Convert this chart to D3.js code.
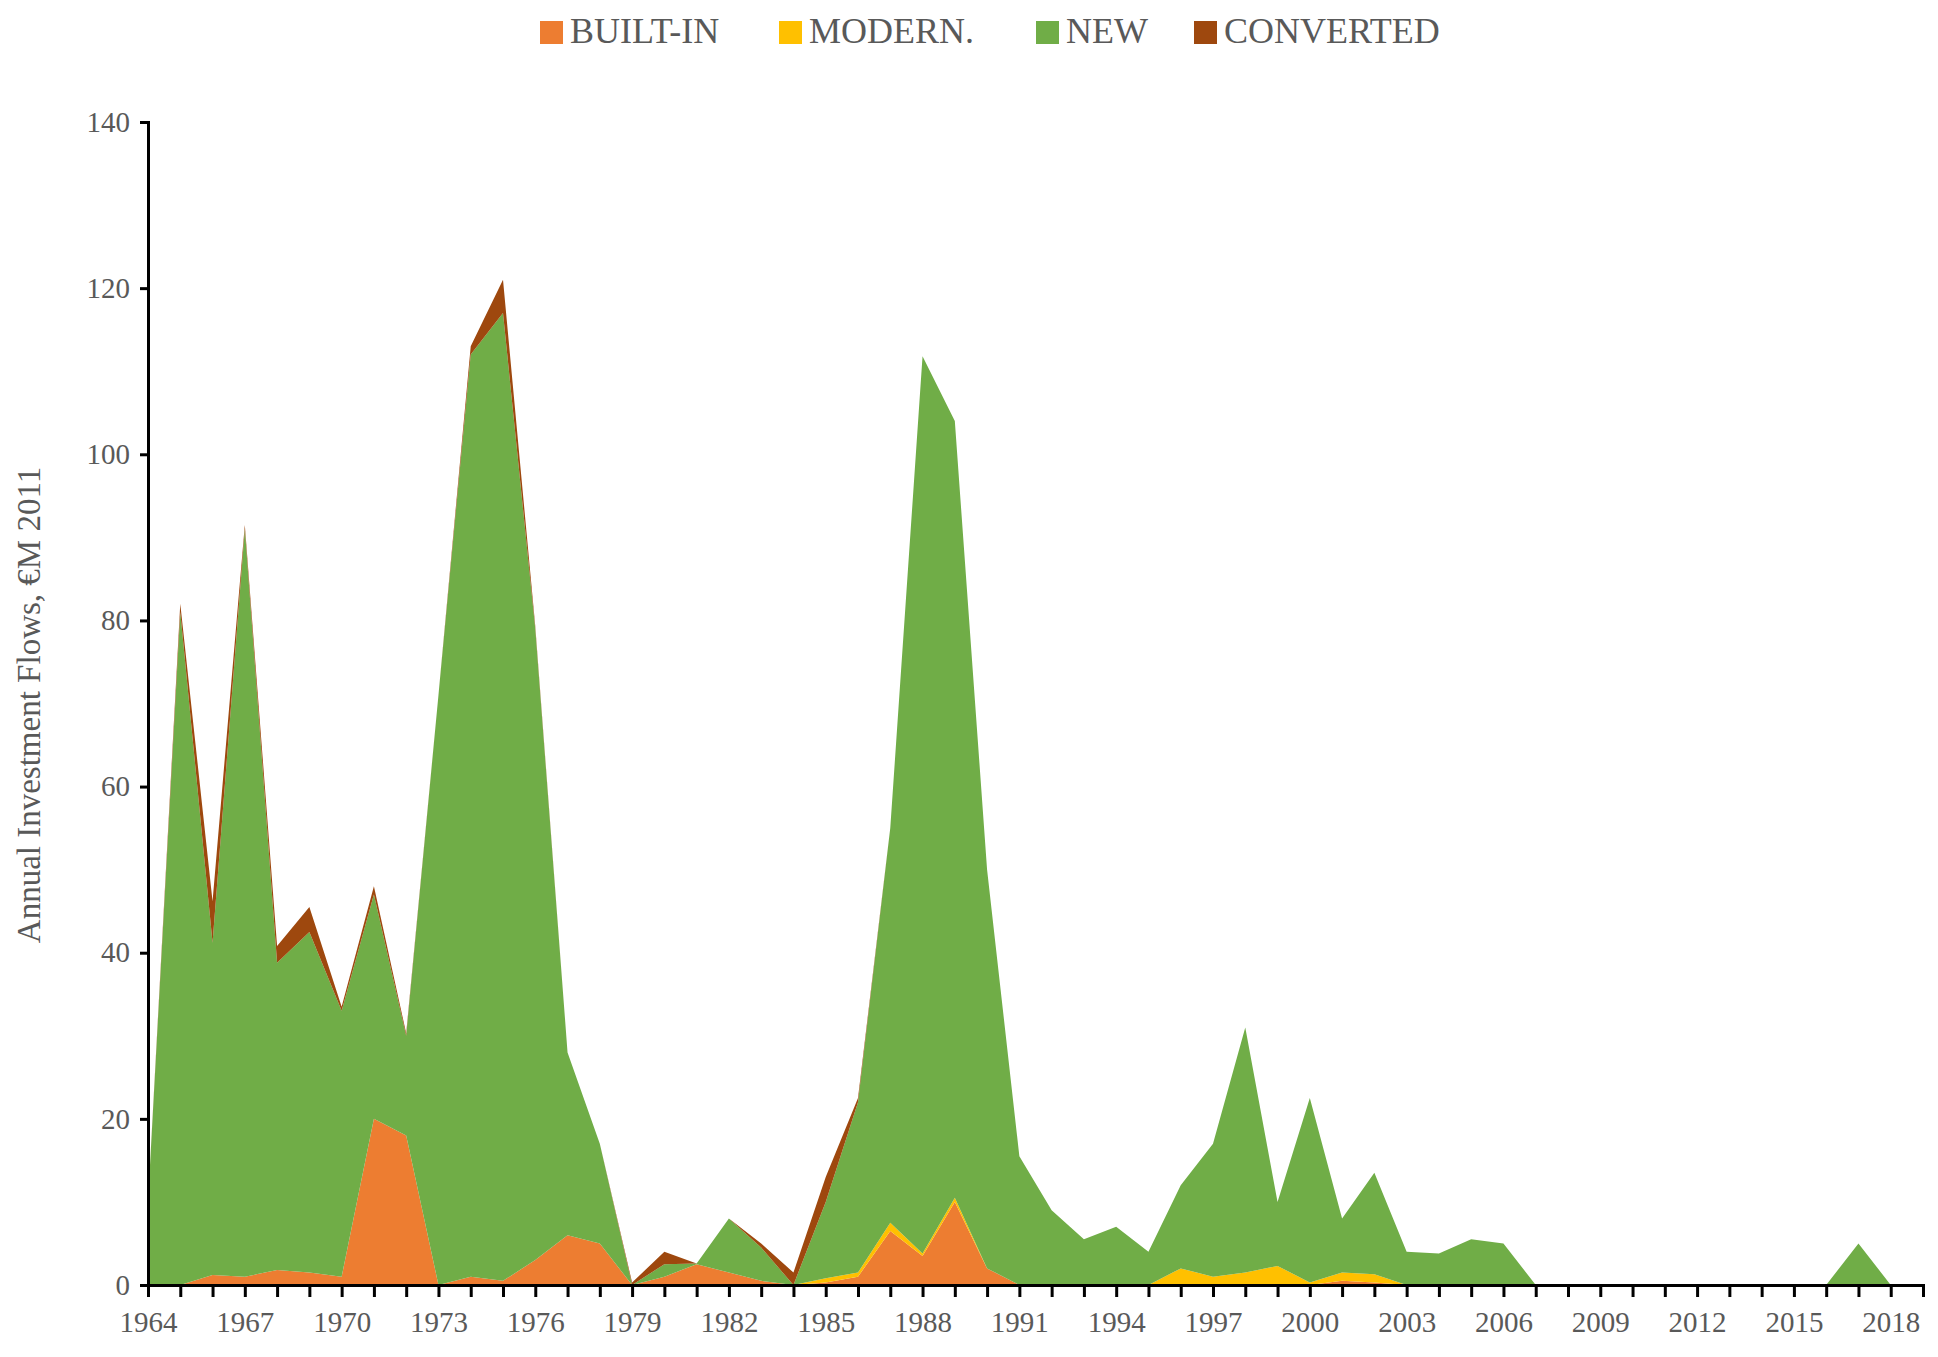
<!DOCTYPE html>
<html>
<head>
<meta charset="utf-8">
<script src="https://cdn.jsdelivr.net/npm/d3@7"></script>
<style>
  body { margin: 0; background: #fff; }
  text { font-family: "Liberation Serif", "DejaVu Serif", serif; fill: #595959; }
</style>
</head>
<body>
<script>
// years 1964..2019
var years = d3.range(1964, 2020);
var builtIn = [0,0,1.2,1,1.8,1.5,1,20,18,0,1,0.5,3,6,5,0,1,2.5,1.5,0.5,0,0.3,1,6.5,3.5,10,2,0,0,0,0,0,0,0,0,0,0,0.5,0.3,0,0,0,0,0,0,0,0,0,0,0,0,0,0,0,0,0];
var modern  = [0,0,0,0,0,0,0,0,0,0,0,0,0,0,0,0,0,0,0,0,0,0.5,0.5,1,0.3,0.5,0,0,0,0,0,0,2,1,1.5,2.3,0.3,1,1,0,0,0,0,0,0,0,0,0,0,0,0,0,0,0,0,0];
var newAdd  = [10,81,40,90,37,41,32,27,12,71,111,116.5,76,22,12,0,1.5,0.1,6.5,4,0,9.2,20.5,47.5,108,93.5,48,15.5,9,5.5,7,4,10,16,29.5,7.7,22.2,6.5,12.2,4,3.8,5.5,5,0,0,0,0,0,0,0,0,0,0,5,0,0];
var converted = [0,1,5,0.5,2,3,0.5,1,0.3,0,1,4,0.3,0,0,0.3,1.5,0,0,0.5,1.5,3,0.5,0,0,0,0,0,0,0,0,0,0,0,0,0,0,0,0,0,0,0,0,0,0,0,0,0,0,0,0,0,0,0,0,0];
var seriesNames = ["BUILT-IN", "MODERN.", "NEW", "CONVERTED"];
var seriesColors = ["#ED7D31", "#FFC000", "#70AD47", "#9E480E"];
var yTicks = [0,20,40,60,80,100,120,140];

var rows = years.map(function(y, i) {
  return {year: y, "BUILT-IN": builtIn[i], "MODERN.": modern[i], "NEW": newAdd[i], "CONVERTED": converted[i]};
});

var W = 1938, H = 1357;
var svg = d3.select("body").append("svg").attr("width", W).attr("height", H);

var x = d3.scaleLinear().domain([1964, 2019]).range([148, 1923]);
var y = d3.scaleLinear().domain([0, 140]).range([1285, 122]);

var stack = d3.stack().keys(seriesNames);
var layers = stack(rows);
var area = d3.area()
  .x(function(d) { return x(d.data.year); })
  .y0(function(d) { return y(d[0]); })
  .y1(function(d) { return y(d[1]); });

svg.selectAll(".layer").data(layers).enter().append("path")
  .attr("class", "layer")
  .attr("d", area)
  .attr("fill", function(d, i) { return seriesColors[i]; });

// y axis
var yAxis = svg.append("g").attr("transform", "translate(148,0)")
  .call(d3.axisLeft(y).tickValues(yTicks).tickSize(8).tickPadding(10));
yAxis.select(".domain").attr("stroke", "#000").attr("stroke-width", 3);
yAxis.selectAll(".tick line").attr("stroke", "#000").attr("stroke-width", 3);
yAxis.selectAll("text").style("font-size", "29px").attr("fill", "#595959");

// x axis
var xAxis = svg.append("g").attr("transform", "translate(0,1285)")
  .call(d3.axisBottom(x).tickValues(years).tickSize(12).tickPadding(14)
    .tickFormat(function(d) { return (d - 1964) % 3 === 0 && d < 2019 ? d : ""; }));
xAxis.select(".domain").attr("stroke", "#000").attr("stroke-width", 3);
xAxis.selectAll(".tick line").attr("stroke", "#000").attr("stroke-width", 3);
xAxis.selectAll("text").style("font-size", "29px").attr("fill", "#595959");

// y label
svg.append("text")
  .attr("transform", "translate(40,705) rotate(-90)")
  .attr("text-anchor", "middle")
  .style("font-size", "33px")
  .text("Annual Investment Flows, €M 2011");

// legend
var legendX = [540, 779, 1036, 1194];
var lg = svg.selectAll(".lg").data(seriesNames).enter().append("g")
  .attr("transform", function(d, i) { return "translate(" + legendX[i] + ",16)"; });
lg.append("rect").attr("width", 23).attr("height", 23).attr("y", 5)
  .attr("fill", function(d, i) { return seriesColors[i]; });
lg.append("text").attr("x", 30).attr("y", 27).style("font-size", "36px").text(function(d) { return d; });
</script>
</body>
</html>
